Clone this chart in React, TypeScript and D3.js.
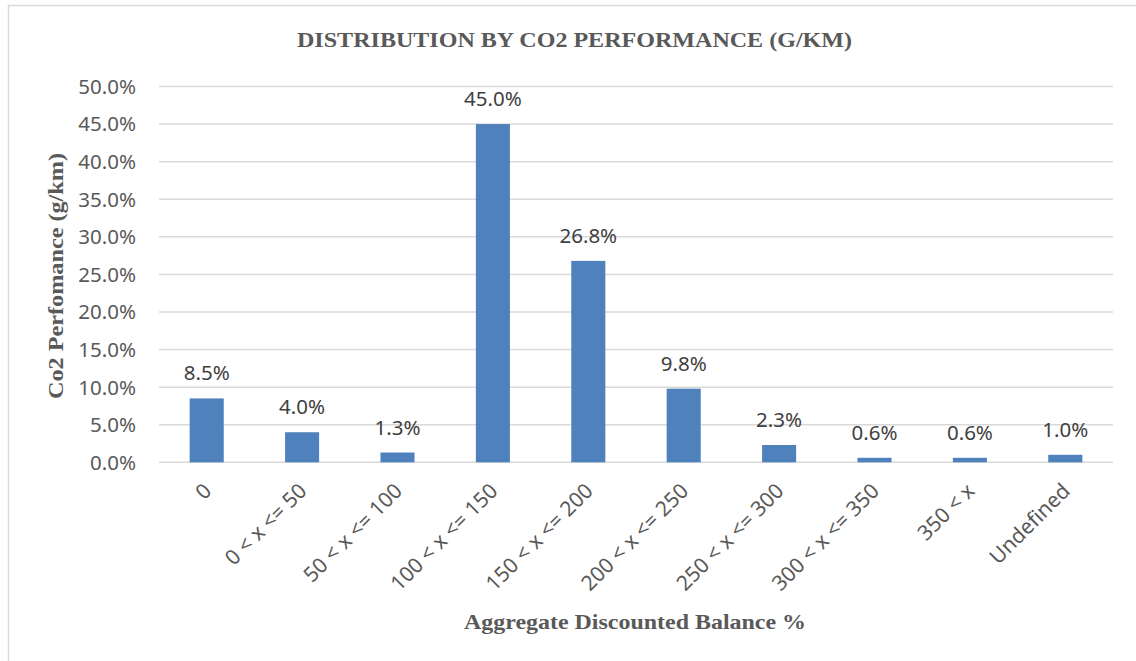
import React from "react";
import * as d3 from "d3";

const categories = ["0", "0 < x <= 50", "50 < x <= 100", "100 < x <= 150", "150 < x <= 200", "200 < x <= 250", "250 < x <= 300", "300 < x <= 350", "350 < x", "Undefined"];
const values = [0.085, 0.04, 0.013, 0.45, 0.268, 0.098, 0.023, 0.006, 0.006, 0.01];
const yTicks = [0, 0.05, 0.1, 0.15, 0.2, 0.25, 0.3, 0.35, 0.4, 0.45, 0.5];
const title = "DISTRIBUTION BY CO2 PERFORMANCE (G/KM)";
const yTitle = "Co2 Perfomance (g/km)";
const xTitle = "Aggregate Discounted Balance %";

const W = 1136, H = 661;
const plot = { left: 159, right: 1113, top: 86.5, bottom: 462.3 };

export default function App() {
  const x = d3.scaleBand<string>().domain(categories).range([plot.left, plot.right]).padding(0);
  const y = d3.scaleLinear().domain([0, 0.5]).range([plot.bottom, plot.top]);
  const barW = x.bandwidth() * 0.357;
  const fmt = d3.format(".1%");
  const sans = "'Noto Sans', sans-serif";
  const serif = "'Liberation Serif', 'Times New Roman', serif";
  return (
    <svg width={W} height={H} style={{ position: "absolute", left: 0, top: 0, background: "#fff" }}>
      <rect x={8.5} y={5.5} width={W + 20} height={H + 20} fill="#fff" stroke="#D9D9D9" strokeWidth={1.5} />
      <text x={574.5} y={47} textAnchor="middle" fontFamily={serif} fontWeight="bold" fontSize={21} fill="#595959" textLength={555} lengthAdjust="spacingAndGlyphs">{title}</text>
      {yTicks.map((t) => (
        <g key={t}>
          <line x1={plot.left} x2={plot.right} y1={y(t)} y2={y(t)} stroke="#D9D9D9" strokeWidth={1.5} />
          <text x={136} y={y(t)} dy="0.36em" textAnchor="end" fontFamily={sans} fontSize={20.5} fill="#595959">{fmt(t)}</text>
        </g>
      ))}
      {categories.map((c, i) => {
        const cx = (x(c) as number) + x.bandwidth() / 2;
        return (
          <g key={c}>
            <rect x={cx - barW / 2} y={y(values[i])} width={barW} height={y(0) - y(values[i])} fill="#4F81BD" />
            <text x={cx} y={y(values[i]) - 18} textAnchor="middle" fontFamily={sans} fontSize={20.5} fill="#404040">{fmt(values[i])}</text>
            <text transform={`translate(${cx + 6},${plot.bottom + 30}) rotate(-45)`} textAnchor="end" fontFamily={sans} fontSize={21} fill="#595959">{c}</text>
          </g>
        );
      })}
      <text transform={`translate(63,276) rotate(-90)`} textAnchor="middle" fontFamily={serif} fontWeight="bold" fontSize={22} fill="#595959" textLength={246} lengthAdjust="spacingAndGlyphs">{yTitle}</text>
      <text x={635} y={629} textAnchor="middle" fontFamily={serif} fontWeight="bold" fontSize={22} fill="#595959" textLength={342} lengthAdjust="spacingAndGlyphs">{xTitle}</text>
    </svg>
  );
}
